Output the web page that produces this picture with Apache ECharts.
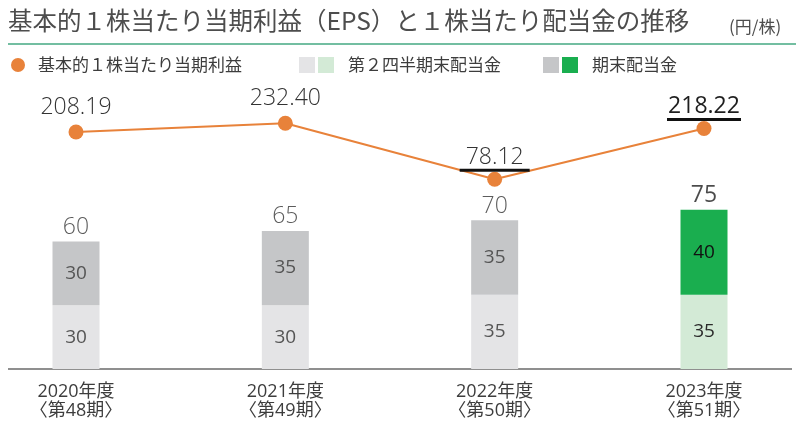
<html>
    <head>
        <meta charset="utf-8">
        <script src="https://cdn.jsdelivr.net/npm/echarts@6/dist/echarts.min.js"></script>
    </head>
    <body style="margin:0;background:#fff;">
        <div id="main" style="width:796px;height:421px;"></div>
        <script>

        var years = ['2020年度\n〈第48期〉', '2021年度\n〈第49期〉', '2022年度\n〈第50期〉', '2023年度\n〈第51期〉'];
        var eps = [208.19, 232.40, 78.12, 218.22];
        var q2Dividend = [30, 30, 35, 35];
        var yearEndDividend = [30, 35, 35, 40];

        var orange = '#e8823a';
        var grayLight = '#e4e4e6';
        var grayDark = '#c5c6c8';
        var greenLight = '#d3ead6';
        var green = '#1aae4f';
        var textColor = '#333';
        var latin = "'Open Sans', 'Noto Sans CJK JP', sans-serif";
        var cjk = "'Noto Sans CJK JP', sans-serif";

        var last = years.length - 1;

        var myChart = echarts.init(document.getElementById('main'));

        var totals = q2Dividend.map(function (v, i) {
            return v + yearEndDividend[i];
        });

        var segLabel = {
            show: true,
            position: 'inside',
            fontSize: 19,
            fontFamily: latin,
            color: '#555'
        };

        option = {
            animation: false,
            backgroundColor: '#fff',
            grid: {
                left: 76,
                right: 92,
                top: 114,
                bottom: 52
            },
            xAxis: {
                type: 'category',
                boundaryGap: false,
                data: years,
                axisLine: { show: false },
                axisTick: { show: false },
                axisLabel: {
                    interval: 0,
                    margin: 13,
                    fontSize: 18,
                    lineHeight: 19,
                    color: '#3d3d3d',
                    fontFamily: latin
                }
            },
            yAxis: [
                { type: 'value', min: 0, max: 120, show: false },
                { type: 'value', min: -445, max: 258, show: false }
            ],
            series: [
                {
                    name: '第２四半期末配当金',
                    type: 'bar',
                    stack: 'div',
                    barWidth: 47,
                    clip: false,
                    label: segLabel,
                    data: q2Dividend.map(function (v, i) {
                        return {
                            value: v,
                            itemStyle: { color: i === last ? greenLight : grayLight },
                            label: { color: i === last ? '#2a2a2a' : '#555' }
                        };
                    })
                },
                {
                    name: '期末配当金',
                    type: 'bar',
                    stack: 'div',
                    barWidth: 47,
                    clip: false,
                    label: segLabel,
                    data: yearEndDividend.map(function (v, i) {
                        return {
                            value: v,
                            itemStyle: { color: i === last ? green : grayDark },
                            label: { color: i === last ? '#111' : '#555' }
                        };
                    })
                },
                {
                    // 合計の数字だけ
                    type: 'scatter',
                    symbolSize: 0,
                    silent: true,
                    clip: false,
                    label: {
                        show: true,
                        position: 'top',
                        distance: 2,
                        fontSize: 23,
                        fontWeight: 300,
                        lineHeight: 24,
                        fontFamily: latin,
                        color: textColor
                    },
                    data: totals.map(function (v, i) {
                        return i === last
                            ? { value: v, label: { fontWeight: 500, color: '#1e1e1e' } }
                            : v;
                    })
                },
                {
                    name: '基本的１株当たり当期利益',
                    type: 'line',
                    yAxisIndex: 1,
                    symbol: 'circle',
                    symbolSize: 15,
                    clip: false,
                    z: 5,
                    lineStyle: { color: orange, width: 2 },
                    itemStyle: { color: orange },
                    label: {
                        show: true,
                        position: 'top',
                        distance: 5,
                        fontSize: 23,
                        fontWeight: 300,
                        lineHeight: 24,
                        fontFamily: latin,
                        color: textColor,
                        formatter: function (p) {
                            return p.value.toFixed(2);
                        }
                    },
                    data: eps.map(function (v, i) {
                        if (i < 2) {
                            return v;
                        }
                        var bold = i === last;
                        return {
                            value: v,
                            label: {
                                distance: 0,
                                formatter: function (p) {
                                    return '{v|' + p.value.toFixed(2) + '}\n{u|}';
                                },
                                rich: {
                                    v: {
                                        fontSize: 23,
                                        lineHeight: 23,
                                        fontFamily: latin,
                                        fontWeight: bold ? 500 : 300,
                                        color: bold ? '#1e1e1e' : textColor
                                    },
                                    u: {
                                        width: bold ? 74 : 70,
                                        height: 3,
                                        lineHeight: 3,
                                        fontSize: 1,
                                        backgroundColor: '#111'
                                    }
                                }
                            }
                        };
                    })
                }
            ],
            graphic: [
                {
                    type: 'text',
                    left: 8,
                    top: 8,
                    style: {
                        text: '基本的１株当たり当期利益（EPS）と１株当たり配当金の推移',
                        font: '24.5px ' + cjk,
                        fill: '#4d4d4d'
                    }
                },
                {
                    type: 'text',
                    x: 729,
                    y: 27,
                    style: {
                        text: '(円/株)',
                        font: '17px ' + cjk,
                        fill: '#4d4d4d',
                        verticalAlign: 'middle'
                    }
                },
                {
                    type: 'line',
                    shape: { x1: 8, y1: 44, x2: 796, y2: 44 },
                    style: { stroke: '#45a882', lineWidth: 1.5 }
                },
                {
                    type: 'circle',
                    shape: { cx: 18, cy: 65, r: 7 },
                    style: { fill: orange }
                },
                {
                    type: 'text',
                    x: 38,
                    y: 65,
                    style: {
                        text: '基本的１株当たり当期利益',
                        font: '17px ' + cjk,
                        fill: '#3d3d3d',
                        verticalAlign: 'middle'
                    }
                },
                { type: 'rect', shape: { x: 299, y: 57, width: 16, height: 16 }, style: { fill: grayLight } },
                { type: 'rect', shape: { x: 318, y: 57, width: 16, height: 16 }, style: { fill: greenLight } },
                {
                    type: 'text',
                    x: 348,
                    y: 65,
                    style: {
                        text: '第２四半期末配当金',
                        font: '17px ' + cjk,
                        fill: '#3d3d3d',
                        verticalAlign: 'middle'
                    }
                },
                { type: 'rect', shape: { x: 543, y: 57, width: 16, height: 16 }, style: { fill: grayDark } },
                { type: 'rect', shape: { x: 562, y: 57, width: 16, height: 16 }, style: { fill: green } },
                {
                    type: 'text',
                    x: 592,
                    y: 65,
                    style: {
                        text: '期末配当金',
                        font: '17px ' + cjk,
                        fill: '#3d3d3d',
                        verticalAlign: 'middle'
                    }
                },
                {
                    type: 'line',
                    shape: { x1: 8, y1: 369, x2: 792, y2: 369 },
                    style: { stroke: '#6a6a6a', lineWidth: 1.5 }
                }
            ]
        };

        myChart.setOption(option);

        </script>
    </body>
</html>
